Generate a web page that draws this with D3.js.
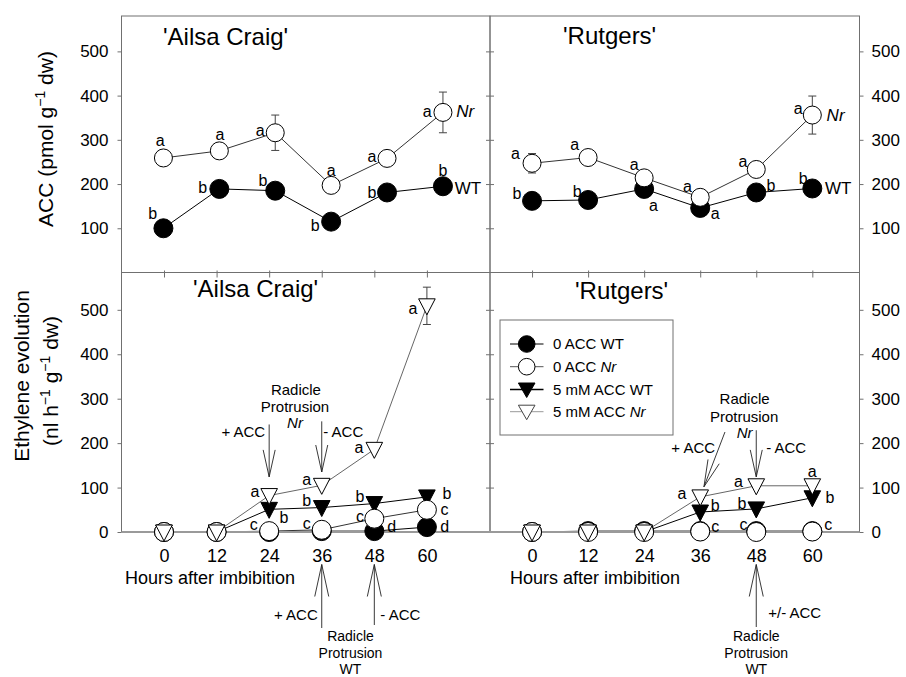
<!DOCTYPE html>
<html>
<head>
<meta charset="utf-8">
<script src="https://cdn.jsdelivr.net/npm/d3@7"></script>
<style>
  body { margin: 0; background: #fff; }
  text { font-family: "Liberation Sans", Arial, sans-serif; fill: #000; }
</style>
</head>
<body>
<script>
// sampling times, hours after imbibition
var hours = [0, 12, 24, 36, 48, 60];
var yTicksTop = [100, 200, 300, 400, 500];
var yTicksBot = [0, 100, 200, 300, 400, 500];

// ACC content (pmol g-1 dw)
var accAilsaWT = [100, 189, 185, 115, 181, 195];
var accAilsaNr = [259, 275, 316, 197, 258, 362];
var accAilsaNrErr = [null, null, 40, null, null, 46];
var accRutgWT = [162, 164, 189, 146, 181, 190];
var accRutgNr = [247, 260, 214, 170, 233, 356];
var accRutgNrErr = [22, null, null, null, null, 43];

var accAilsaWTLet = ["b", "b", "b", "b", "b", "b"];
var accAilsaNrLet = ["a", "a", "a", "a", "a", "a"];
var accRutgWTLet = ["b", "b", "a", "a", "b", "b"];
var accRutgNrLet = ["a", "a", "a", "a", "a", "a"];

// ethylene evolution (nl h-1 g-1 dw)
var ethAilsaWT0 = [0, 0, 0, 2, 2, 11];
var ethAilsaNr0 = [0, 0, 2, 5, 30, 50];
var ethAilsaWT5 = [0, 0, 51, 55, 64, 79];
var ethAilsaNr5 = [0, 0, 82, 105, 186, 509];
var ethAilsaNr5Err = [null, null, null, null, null, 42];
var ethRutgWT0 = [0, 2, 2, 2, 2, 2];
var ethRutgNr0 = [0, 0, 0, 1, 0, 1];
var ethRutgWT5 = [0, 0, 0, 45, 52, 77];
var ethRutgNr5 = [0, 0, 0, 79, 104, 104];

var ethAilsaWT0Let = [null, null, null, null, "d", "d"];
var ethAilsaNr0Let = [null, null, "c", "c", "c", "c"];
var ethAilsaWT5Let = [null, null, "b", "b", "b", "b"];
var ethAilsaNr5Let = [null, null, "a", "a", "a", "a"];
var ethRutgNr0Let = [null, null, null, "c", "c", "c"];
var ethRutgWT5Let = [null, null, null, "b", "b", "b"];
var ethRutgNr5Let = [null, null, null, "a", "a", "a"];

var legendNames = [["0 ACC ", "WT"], ["0 ACC ", "Nr"], ["5 mM ACC ", "WT"], ["5 mM ACC ", "Nr"]];

// where the significance letters sit, relative to their marker (px)
var offAilsaWT = [[-10.7, -15], [-16.7, -2], [-12.3, -10.7], [-16, 3.7], [-15, 0], [0, -16]];
var offAilsaNr = [[-3.3, -17.7], [0.7, -16.7], [-15, -2.7], [0, -14.7], [-15, -2.3], [-15.7, -0.7]];
var offRutgWT = [[-15, -7.7], [-11, -8.3], [9.3, 16], [15, 5.7], [14.7, -7.3], [-9, -10]];
var offRutgNr = [[-16.7, -10], [-13.3, -13], [-10, -13.7], [-12.7, -11.3], [-13.3, -7.7], [-14, -6.7]];
var offEAWT0 = [null, null, null, null, [17.3, -5], [17.7, -1]];
var offEANr0 = [null, null, [-15.3, -7], [-15, -6.3], [-14.3, -2], [17.7, 0]];
var offEAWT5 = [null, null, [14.7, 8], [-15, -7.5], [-14.3, -7.5], [20, -3.3]];
var offEANr5 = [null, null, [-14.3, -3.8], [-15, -6], [-15.3, -1.5], [-14, 3]];
var offERNr0 = [null, null, null, [15, -5], [-12.7, -8], [16, -6.7]];
var offERWT5 = [null, null, null, [15, -7], [-14.3, -5.3], [17.7, 0]];
var offERNr5 = [null, null, null, [-18.3, -3.3], [-17.7, -4], [0, -14]];

var W = 906, H = 677;
var X0 = 121.5, XM = 490, X1 = 859.5;
var Y0 = 16, YM = 272.5, Y1 = 532;
var FRAME = "#707070";

var svg = d3.select("body").append("svg")
    .attr("width", W)
    .attr("height", H);

// scales - the top-left panel is not spaced like its neighbour below it
var xTopL = d3.scaleLinear().domain([-9, 70.1]).range([X0, XM]);
var xTopR = d3.scaleLinear().domain([-9, 70.1]).range([XM, X1]);
var xBotL = d3.scaleLinear().domain([-9.7, 74.4]).range([X0, XM]);
var xBotR = d3.scaleLinear().domain([-9, 70.1]).range([XM, X1]);
var yTop = d3.scaleLinear().domain([0, 580]).range([YM, Y0]);
var yBot = d3.scaleLinear().domain([0, 584]).range([Y1, YM]);

var triPath = "M-8.3,-7L8.3,-7L0,9Z";
var triPathLeg = "M-8.3,-6.5L8.3,-6.5L0,8Z";

function styleAxis(g, size) {
    g.select(".domain").remove();
    g.selectAll("line").attr("stroke", FRAME);
    g.selectAll("text").attr("font-size", size).attr("font-family", null);
    g.attr("font-family", null);
}

// y axes
svg.append("g").attr("transform", "translate(" + X0 + ",0)")
    .call(d3.axisLeft(yTop).tickValues(yTicksTop).tickSize(4).tickPadding(9))
    .call(styleAxis, 17);
svg.append("g").attr("transform", "translate(" + X0 + ",0)")
    .call(d3.axisLeft(yBot).tickValues(yTicksBot).tickSize(4).tickPadding(9))
    .call(styleAxis, 17);
svg.append("g").attr("transform", "translate(" + X1 + ",0)")
    .call(d3.axisRight(yTop).tickValues(yTicksTop).tickSize(4).tickPadding(8))
    .call(styleAxis, 17);
svg.append("g").attr("transform", "translate(" + X1 + ",0)")
    .call(d3.axisRight(yBot).tickValues(yTicksBot).tickSize(4).tickPadding(8))
    .call(styleAxis, 17);
// ticks on both sides of the middle divider
[yTop, yBot].forEach(function (ys, k) {
    var tv = k === 0 ? yTicksTop : yTicksBot;
    svg.append("g").attr("transform", "translate(" + XM + ",0)")
        .call(d3.axisRight(ys).tickValues(tv).tickSize(4).tickFormat(""))
        .call(styleAxis, 17);
    svg.append("g").attr("transform", "translate(" + XM + ",0)")
        .call(d3.axisLeft(ys).tickValues(tv).tickSize(4).tickFormat(""))
        .call(styleAxis, 17);
});

// x ticks on the shared edge, x labels under the bottom panels
[xBotL, xBotR].forEach(function (xs) {
    svg.append("g").attr("transform", "translate(0," + (YM - 2) + ")")
        .call(d3.axisBottom(xs).tickValues(hours).tickSize(7).tickFormat(""))
        .call(styleAxis, 18);
    svg.append("g").attr("transform", "translate(0," + Y1 + ")")
        .call(d3.axisBottom(xs).tickValues(hours).tickSize(0).tickPadding(17))
        .call(styleAxis, 18);
});

svg.append("text").attr("x", 125).attr("y", 584).attr("font-size", 18).text("Hours after imbibition");
svg.append("text").attr("x", 510).attr("y", 584).attr("font-size", 18).text("Hours after imbibition");

// panel frames
[[X0, Y0, XM, YM], [XM, Y0, X1, YM], [X0, YM, XM, Y1], [XM, YM, X1, Y1]].forEach(function (r) {
    svg.append("rect").attr("x", r[0]).attr("y", r[1])
        .attr("width", r[2] - r[0]).attr("height", r[3] - r[1])
        .attr("fill", "none").attr("stroke", FRAME).attr("stroke-width", 1);
});

// titles
function title(x, y, s) {
    svg.append("text").attr("x", x).attr("y", y).attr("font-size", 24).text(s);
}
title(163, 45, "'Ailsa Craig'");
title(563, 44, "'Rutgers'");
title(193, 297, "'Ailsa Craig'");
title(575, 299, "'Rutgers'");

// y axis titles with superscripts
function yTitle(x, y, parts) {
    var t = svg.append("text")
        .attr("transform", "translate(" + x + "," + y + ") rotate(-90)")
        .attr("text-anchor", "middle").attr("font-size", 21);
    var up = false;
    parts.forEach(function (p) {
        var ts = t.append("tspan").text(p[0]);
        if (p[1] === "sup") {
            ts.attr("font-size", 14).attr("dy", -8);
            up = true;
        } else if (up) {
            ts.attr("dy", 8);
            up = false;
        }
    });
}
yTitle(53, 139, [["ACC (pmol g"], ["\u22121", "sup"], [" dw)"]]);
yTitle(29, 376, [["Ethylene evolution"]]);
yTitle(58, 381, [["(nl h"], ["\u22121", "sup"], [" g"], ["\u22121", "sup"], [" dw)"]]);

// one panel's series: lines, axis, error bars, markers, letters
function drawPanel(xs, ys, series, zeroAxis) {
    var g = svg.append("g");
    series.forEach(function (s) {
        var line = d3.line()
            .x(function (d, i) { return xs(hours[i]); })
            .y(function (d) { return ys(d); });
        g.append("path").datum(s.vals)
            .attr("d", line)
            .attr("fill", "none")
            .attr("stroke", s.line)
            .attr("stroke-width", 1);
    });
    if (zeroAxis) {
        g.append("line").attr("x1", xs.range()[0]).attr("x2", xs.range()[1])
            .attr("y1", ys(0)).attr("y2", ys(0))
            .attr("stroke", "#9a9a9a").attr("stroke-width", 2.2);
    }
    series.forEach(function (s) {
        if (!s.err) return;
        s.vals.forEach(function (v, i) {
            var e = s.err[i];
            if (e == null) return;
            var cx = xs(hours[i]);
            g.append("line").attr("x1", cx).attr("x2", cx)
                .attr("y1", ys(v - e)).attr("y2", ys(v + e))
                .attr("stroke", "#444");
            [v - e, v + e].forEach(function (w) {
                g.append("line").attr("x1", cx - 4).attr("x2", cx + 4)
                    .attr("y1", ys(w)).attr("y2", ys(w))
                    .attr("stroke", "#444");
            });
        });
    });
    series.forEach(function (s) {
        var m = g.selectAll(null).data(s.vals).enter();
        if (s.shape === "circle") {
            m.append("circle")
                .attr("cx", function (d, i) { return xs(hours[i]); })
                .attr("cy", function (d) { return ys(d); })
                .attr("r", s.r)
                .attr("fill", s.fill).attr("stroke", "#000").attr("stroke-width", 1);
        } else {
            m.append("path")
                .attr("d", triPath)
                .attr("transform", function (d, i) { return "translate(" + xs(hours[i]) + "," + ys(d) + ")"; })
                .attr("fill", s.fill).attr("stroke", "#000").attr("stroke-width", 1);
        }
    });
    series.forEach(function (s) {
        if (!s.letters) return;
        s.letters.forEach(function (l, i) {
            if (l == null) return;
            g.append("text")
                .attr("x", xs(hours[i]) + s.offs[i][0])
                .attr("y", ys(s.vals[i]) + s.offs[i][1])
                .attr("dy", "0.35em")
                .attr("text-anchor", "middle")
                .attr("font-size", 16)
                .text(l);
        });
        if (s.tag) {
            var n = s.vals.length - 1;
            g.append("text")
                .attr("x", xs(hours[n]) + s.tag[1])
                .attr("y", ys(s.vals[n]) + s.tag[2])
                .attr("dy", "0.35em")
                .attr("font-size", 17)
                .attr("font-style", s.tag[0] === "Nr" ? "italic" : null)
                .text(s.tag[0]);
        }
    });
    return g;
}

drawPanel(xTopL, yTop, [
    {vals: accAilsaWT, shape: "circle", r: 9.5, fill: "#000", line: "#000", letters: accAilsaWTLet, offs: offAilsaWT, tag: ["WT", 11.7, 1.7]},
    {vals: accAilsaNr, err: accAilsaNrErr, shape: "circle", r: 9, fill: "#fff", line: "#333", letters: accAilsaNrLet, offs: offAilsaNr, tag: ["Nr", 13.3, -1]}
], false);

drawPanel(xTopR, yTop, [
    {vals: accRutgWT, shape: "circle", r: 9.5, fill: "#000", line: "#000", letters: accRutgWTLet, offs: offRutgWT, tag: ["WT", 12.7, 0]},
    {vals: accRutgNr, err: accRutgNrErr, shape: "circle", r: 9, fill: "#fff", line: "#333", letters: accRutgNrLet, offs: offRutgNr, tag: ["Nr", 14.3, 0]}
], false);

drawPanel(xBotL, yBot, [
    {vals: ethAilsaWT0, shape: "circle", r: 9.5, fill: "#000", line: "#000", letters: ethAilsaWT0Let, offs: offEAWT0},
    {vals: ethAilsaWT5, shape: "tri", fill: "#000", line: "#000", letters: ethAilsaWT5Let, offs: offEAWT5},
    {vals: ethAilsaNr0, shape: "circle", r: 9.5, fill: "#fff", line: "#333", letters: ethAilsaNr0Let, offs: offEANr0},
    {vals: ethAilsaNr5, err: ethAilsaNr5Err, shape: "tri", fill: "#fff", line: "#666", letters: ethAilsaNr5Let, offs: offEANr5}
], true);

drawPanel(xBotR, yBot, [
    {vals: ethRutgWT0, shape: "circle", r: 9.5, fill: "#000", line: "#000"},
    {vals: ethRutgWT5, shape: "tri", fill: "#000", line: "#000", letters: ethRutgWT5Let, offs: offERWT5},
    {vals: ethRutgNr0, shape: "circle", r: 9.5, fill: "#fff", line: "#333", letters: ethRutgNr0Let, offs: offERNr0},
    {vals: ethRutgNr5, shape: "tri", fill: "#fff", line: "#666", letters: ethRutgNr5Let, offs: offERNr5}
], true);

// arrows with open V heads
function arrow(x1, y1, x2, y2, len, half) {
    var dx = x2 - x1, dy = y2 - y1, L = Math.sqrt(dx * dx + dy * dy);
    var ux = dx / L, uy = dy / L;
    var bx = x2 - ux * len, by = y2 - uy * len;
    var g = svg.append("g").attr("stroke", "#222").attr("stroke-width", 0.9).attr("fill", "none");
    g.append("line").attr("x1", x1).attr("y1", y1).attr("x2", x2).attr("y2", y2);
    g.append("path").attr("d", "M" + (bx - uy * half) + "," + (by + ux * half) +
        "L" + x2 + "," + y2 + "L" + (bx + uy * half) + "," + (by - ux * half));
}
function note(x, y, s, anchor, italic, size) {
    svg.append("text").attr("x", x).attr("y", y)
        .attr("text-anchor", anchor || "middle")
        .attr("font-size", size || 15)
        .attr("font-style", italic ? "italic" : null)
        .text(s);
}

// Ailsa Craig ethylene notes
arrow(xBotL(24), yBot(242), xBotL(24), yBot(124), 27, 6);
arrow(xBotL(36), yBot(249), xBotL(36), yBot(135), 27, 6);
note(xBotL(30.1), yBot(307.7), "Radicle");
note(xBotL(29.9), yBot(270), "Protrusion");
note(xBotL(29.9), yBot(233.6), "Nr", "middle", true);
note(xBotL(18.1), yBot(214), "+ ACC");
note(xBotL(40.9), yBot(214), "- ACC");

// Rutgers ethylene notes
arrow(xBotR(41.3), yBot(225), xBotR(36.8), yBot(101.7), 27, 6);
arrow(xBotR(48), yBot(229), xBotR(48), yBot(124), 27, 6);
note(xBotR(45.5), yBot(287.5), "Radicle");
note(xBotR(45.4), yBot(247.7), "Protrusion");
note(xBotR(45.5), yBot(210.5), "Nr", "middle", true);
note(xBotR(34.5), yBot(178), "+ ACC");
note(xBotR(54.4), yBot(178), "- ACC");

// WT radicle protrusion, below the axes
arrow(xBotL(36), 628, xBotL(36), 564.5, 32, 7);
arrow(xBotL(48), 625, xBotL(48), 564.5, 32, 7);
note(xBotL(36) - 4, 620, "+ ACC", "end");
note(xBotL(48) + 6, 620, "- ACC", "start");
note(350.5, 641, "Radicle", "middle", false, 14);
note(350.5, 657.5, "Protrusion", "middle", false, 14);
note(350.5, 674, "WT", "middle", false, 14);

arrow(xBotR(48), 627, xBotR(48), 564.5, 32, 7);
note(xBotR(48) + 12, 617.7, "+/- ACC", "start");
note(xBotR(48), 641, "Radicle", "middle", false, 14);
note(xBotR(48), 657.5, "Protrusion", "middle", false, 14);
note(xBotR(48), 674, "WT", "middle", false, 14);

// legend
var leg = svg.append("g");
leg.append("rect").attr("x", 500).attr("y", 320).attr("width", 173).attr("height", 115)
    .attr("fill", "#fff").attr("stroke", FRAME);
var legRows = [344, 366.7, 389.5, 411.7];
var legLine = ["#000", "#555", "#000", "#999"];
var legFill = ["#000", "#fff", "#000", "#fff"];
legendNames.forEach(function (nm, i) {
    var y = legRows[i];
    leg.append("line").attr("x1", 510).attr("x2", 543.5).attr("y1", y).attr("y2", y)
        .attr("stroke", legLine[i]).attr("stroke-width", i === 2 ? 1.6 : 1);
    if (i < 2) {
        leg.append("circle").attr("cx", 526.7).attr("cy", y).attr("r", 8.3)
            .attr("fill", legFill[i]).attr("stroke", "#000");
    } else {
        leg.append("path").attr("d", triPathLeg)
            .attr("transform", "translate(526.7," + y + ")")
            .attr("fill", legFill[i]).attr("stroke", i === 3 ? "#444" : "#000");
    }
    var t = leg.append("text").attr("x", 553).attr("y", y).attr("dy", "0.35em").attr("font-size", 15);
    t.append("tspan").text(nm[0]);
    t.append("tspan").attr("font-style", nm[1] === "Nr" ? "italic" : null).text(nm[1]);
});
</script>
</body>
</html>
